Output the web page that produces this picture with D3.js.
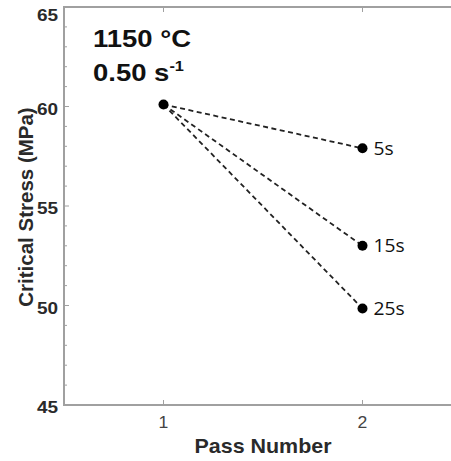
<!DOCTYPE html>
<html>
<head>
<meta charset="utf-8">
<script src="https://cdn.jsdelivr.net/npm/d3@7"></script>
<style>
  html, body { margin: 0; padding: 0; background: #fff; }
  svg { display: block; }
</style>
</head>
<body>
<script>
// Critical stress for the second pass after different inter-pass times
const passes = [1, 2];
const firstPassStress = 60.1;
const holdLabels = ["5s", "15s", "25s"];
const secondPassStress = [57.9, 53.0, 49.85];
const yTicks = [45, 50, 55, 60, 65];
const xTicks = [1, 2];

const W = 451, H = 461;
const svg = d3.select("body").append("svg").attr("width", W).attr("height", H);

const x = d3.scaleLinear().domain([0.5, 2.5]).range([64, 462]);
const y = d3.scaleLinear().domain([45, 65]).range([405, 7]);

const SANS = "Liberation Sans, Arial, sans-serif";
const frame = "#a0a0a0";
const g = svg.append("g");

// Text drawn with a slight horizontal widening
function wideText(parent, px, py, sx, anchor) {
  return parent.append("text")
    .attr("transform", `translate(${px},${py}) scale(${sx},1)`)
    .attr("text-anchor", anchor || "start");
}

// Frame: left, top and bottom lines (right side runs past the edge)
g.append("line").attr("x1", x(0.5)).attr("x2", x(0.5)).attr("y1", y(45)).attr("y2", y(65))
  .attr("stroke", frame).attr("stroke-width", 2);
g.append("line").attr("x1", x(0.5) - 1).attr("x2", x(2.5)).attr("y1", y(45)).attr("y2", y(45))
  .attr("stroke", frame).attr("stroke-width", 2);
g.append("line").attr("x1", x(0.5) - 1).attr("x2", x(2.5)).attr("y1", y(65)).attr("y2", y(65))
  .attr("stroke", frame).attr("stroke-width", 2);

// Inward ticks on the left axis: majors every 5, minors every 1
const minor = d3.range(46, 65, 1).filter(v => v % 5 !== 0);
g.selectAll(".ymin").data(minor).join("line")
  .attr("x1", x(0.5)).attr("x2", x(0.5) + 3)
  .attr("y1", d => y(d)).attr("y2", d => y(d))
  .attr("stroke", frame).attr("stroke-width", 1);
g.selectAll(".ymaj").data(yTicks).join("line")
  .attr("x1", x(0.5)).attr("x2", x(0.5) + 5)
  .attr("y1", d => y(d)).attr("y2", d => y(d))
  .attr("stroke", frame).attr("stroke-width", 1);

// Inward ticks on bottom and top
g.selectAll(".xb").data(xTicks).join("line")
  .attr("x1", d => x(d)).attr("x2", d => x(d))
  .attr("y1", y(45)).attr("y2", y(45) - 5)
  .attr("stroke", frame).attr("stroke-width", 1);
g.selectAll(".xt").data(xTicks).join("line")
  .attr("x1", d => x(d)).attr("x2", d => x(d))
  .attr("y1", y(65)).attr("y2", y(65) + 5)
  .attr("stroke", frame).attr("stroke-width", 1);

// Tick labels
yTicks.forEach(d => {
  wideText(g, x(0.5) - 6, d === 65 ? y(d) + 14 : y(d) + 8, 1.15, "end")
    .attr("font-family", SANS).attr("font-weight", "bold").attr("font-size", 16.5)
    .attr("fill", "#2a2a2a").text(d);
});
xTicks.forEach(d => {
  wideText(g, x(d), 428, 1.1, "middle")
    .attr("font-family", SANS).attr("font-size", 16)
    .attr("fill", "#444").text(d);
});

// Axis titles
wideText(svg, (x(0.5) + x(2.5)) / 2, 453, 1.1, "middle")
  .attr("font-family", SANS).attr("font-weight", "bold").attr("font-size", 19.5)
  .attr("fill", "#2a2a2a").text("Pass Number");
svg.append("text")
  .attr("transform", "translate(33,207) rotate(-90)")
  .attr("text-anchor", "middle")
  .attr("font-family", SANS).attr("font-weight", "bold").attr("font-size", 20.5)
  .attr("fill", "#2a2a2a")
  .text("Critical Stress (MPa)");

// Condition annotation
wideText(svg, 93, 47, 1.17).attr("font-family", SANS).attr("font-weight", "bold")
  .attr("font-size", 23.5).attr("fill", "#111").text("1150 °C");
const l2 = wideText(svg, 93, 81, 1.17).attr("font-family", SANS).attr("font-weight", "bold")
  .attr("font-size", 23.5).attr("fill", "#111");
l2.append("tspan").text("0.50 s");
l2.append("tspan").attr("dy", -10).attr("font-size", 14).text("-1");

// Dashed connectors from pass 1 to each pass-2 value
g.selectAll(".conn").data(secondPassStress).join("line")
  .attr("x1", x(passes[0])).attr("y1", y(firstPassStress))
  .attr("x2", x(passes[1])).attr("y2", d => y(d))
  .attr("stroke", "#222").attr("stroke-width", 1.8)
  .attr("stroke-dasharray", "5,3.5");

// Markers
g.append("circle").attr("cx", x(passes[0])).attr("cy", y(firstPassStress)).attr("r", 5).attr("fill", "#000");
g.selectAll(".pt").data(secondPassStress).join("circle")
  .attr("cx", x(passes[1])).attr("cy", d => y(d)).attr("r", 5).attr("fill", "#000");

// Hold-time labels
secondPassStress.forEach((d, i) => {
  wideText(g, x(passes[1]) + 11, y(d) + 6.5, 1.1)
    .attr("font-family", "Open Sans, sans-serif").attr("font-size", 17.5)
    .attr("fill", "#111").text(holdLabels[i]);
});
</script>
</body>
</html>
